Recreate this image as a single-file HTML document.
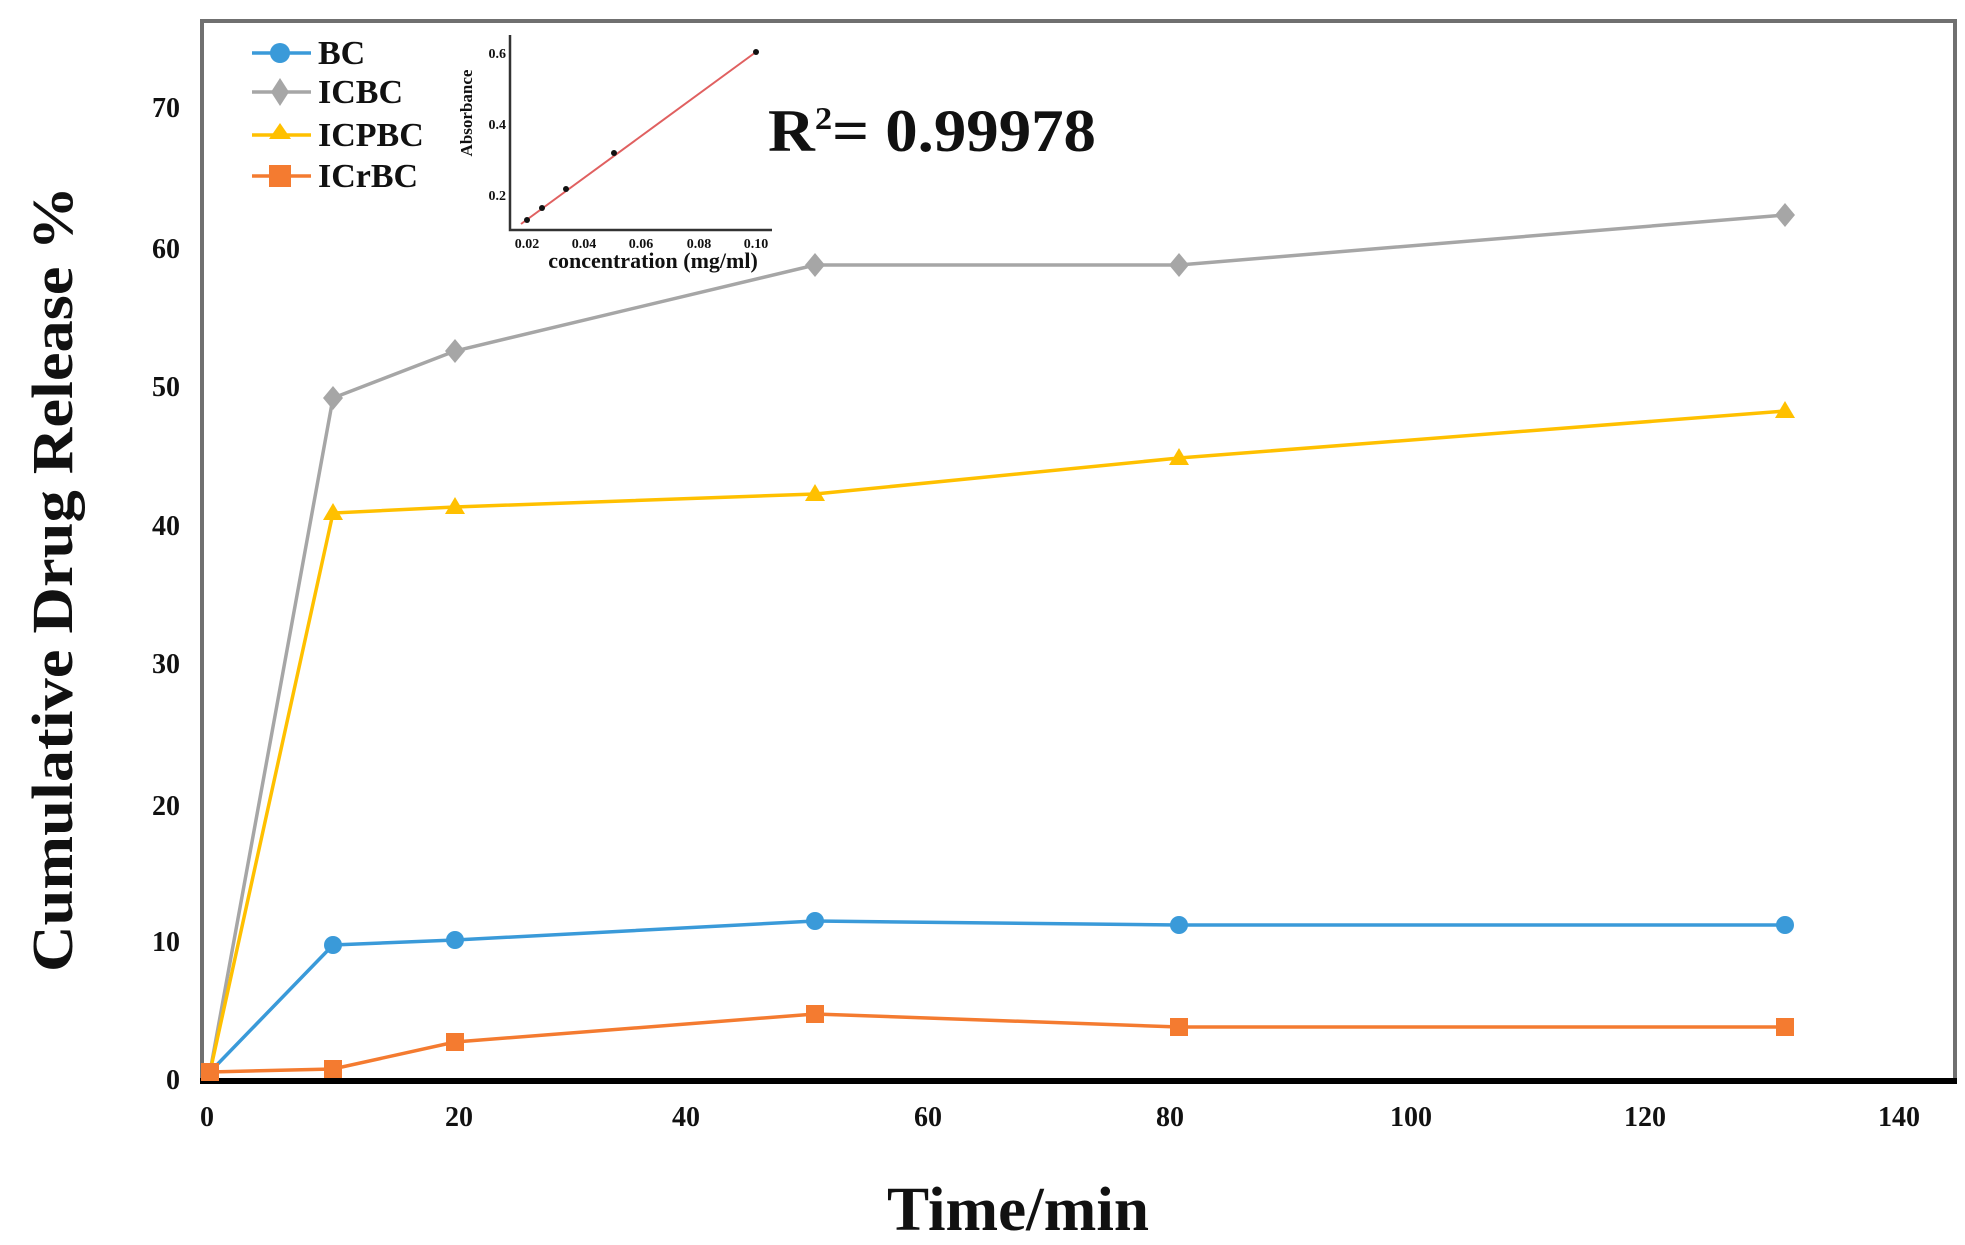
<!DOCTYPE html>
<html><head><meta charset="utf-8"><style>
html,body{margin:0;padding:0;background:#fff;}
svg{display:block;}
text{font-family:"Liberation Serif",serif;font-weight:bold;fill:#111;}
</style></head><body>
<svg width="1965" height="1245" viewBox="0 0 1965 1245" xmlns="http://www.w3.org/2000/svg">
<rect x="0" y="0" width="1965" height="1245" fill="#fff"/>
<rect x="202" y="21" width="1753" height="1060" fill="none" stroke="#707070" stroke-width="4"/>
<line x1="200" y1="1081" x2="1957" y2="1081" stroke="#000" stroke-width="6"/>
<g font-size="28" text-anchor="end">
<text x="180" y="1089">0</text>
<text x="180" y="951">10</text>
<text x="180" y="815">20</text>
<text x="180" y="673">30</text>
<text x="180" y="535">40</text>
<text x="180" y="396">50</text>
<text x="180" y="258">60</text>
<text x="180" y="117">70</text>
</g>
<g font-size="28" text-anchor="middle">
<text x="207" y="1126">0</text>
<text x="459" y="1126">20</text>
<text x="686" y="1126">40</text>
<text x="928" y="1126">60</text>
<text x="1170" y="1126">80</text>
<text x="1411" y="1126">100</text>
<text x="1645" y="1126">120</text>
<text x="1899" y="1126">140</text>
</g>
<text x="0" y="0" font-size="58" text-anchor="middle" transform="translate(72,579) rotate(-90)" textLength="786" lengthAdjust="spacingAndGlyphs">Cumulative Drug Release %</text>
<text x="1018" y="1230" font-size="62" text-anchor="middle" textLength="262" lengthAdjust="spacingAndGlyphs">Time/min</text>
<g fill="none" stroke-width="3.5">
<polyline stroke="#a6a6a6" points="210,1072 333,398 455,351 815,265 1179,265 1785,215"/>
<polyline stroke="#ffc000" points="210,1072 333,513 455,507 815,494 1179,458 1785,411"/>
<polyline stroke="#3a9ad9" points="210,1072 333,945 455,940 815,921 1179,925 1785,925"/>
<polyline stroke="#f47b30" points="210,1072 333,1069 455,1042 815,1014 1179,1027 1785,1027"/>
</g>
<g fill="#a6a6a6">
<polygon points="333,386 343,398 333,410 323,398"/><polygon points="455,339 465,351 455,363 445,351"/>
<polygon points="815,253 825,265 815,277 805,265"/><polygon points="1179,253 1189,265 1179,277 1169,265"/>
<polygon points="1785,203 1795,215 1785,227 1775,215"/>
</g>
<g fill="#ffc000">
<polygon points="333,503 343,520 323,520"/><polygon points="455,497 465,514 445,514"/>
<polygon points="815,484 825,501 805,501"/><polygon points="1179,448 1189,465 1169,465"/>
<polygon points="1785,401 1795,418 1775,418"/>
</g>
<g fill="#3a9ad9">
<circle cx="333" cy="945" r="9"/><circle cx="455" cy="940" r="9"/><circle cx="815" cy="921" r="9"/>
<circle cx="1179" cy="925" r="9"/><circle cx="1785" cy="925" r="9"/>
</g>
<g fill="#f47b30">
<rect x="201" y="1063" width="18" height="18"/><rect x="324" y="1060" width="18" height="18"/>
<rect x="446" y="1033" width="18" height="18"/><rect x="806" y="1005" width="18" height="18"/>
<rect x="1170" y="1018" width="18" height="18"/><rect x="1776" y="1018" width="18" height="18"/>
</g>
<g stroke-width="3.5">
<line x1="252" y1="53" x2="311" y2="53" stroke="#3a9ad9"/>
<line x1="252" y1="92" x2="311" y2="92" stroke="#a6a6a6"/>
<line x1="252" y1="135" x2="311" y2="135" stroke="#ffc000"/>
<line x1="252" y1="176" x2="311" y2="176" stroke="#f47b30"/>
</g>
<circle cx="280" cy="53" r="10" fill="#3a9ad9"/>
<polygon points="280,78 289,92 280,106 271,92" fill="#a6a6a6"/>
<polygon points="280,123 291,139 269,139" fill="#ffc000"/>
<rect x="269" y="165" width="22" height="22" fill="#f47b30"/>
<g font-size="34">
<text x="318" y="64">BC</text>
<text x="318" y="103">ICBC</text>
<text x="318" y="146">ICPBC</text>
<text x="318" y="187">ICrBC</text>
</g>
<polyline points="510,35 510,230 772,230" fill="none" stroke="#333" stroke-width="2.5"/>
<line x1="521" y1="224" x2="756" y2="52" stroke="#e06060" stroke-width="2"/>
<g fill="#111">
<circle cx="527" cy="220" r="3"/><circle cx="542" cy="208" r="3"/><circle cx="566" cy="189" r="3"/>
<circle cx="614" cy="153" r="3"/><circle cx="756" cy="52" r="3"/>
</g>
<g font-size="14" text-anchor="end">
<text x="506" y="58">0.6</text><text x="506" y="129">0.4</text><text x="506" y="200">0.2</text>
</g>
<g font-size="14" text-anchor="middle">
<text x="527" y="248">0.02</text><text x="584" y="248">0.04</text><text x="641" y="248">0.06</text>
<text x="699" y="248">0.08</text><text x="756" y="248">0.10</text>
</g>
<text x="653" y="268" font-size="22" text-anchor="middle">concentration (mg/ml)</text>
<text x="0" y="0" font-size="17" text-anchor="middle" transform="translate(472,113) rotate(-90)">Absorbance</text>
<text x="768" y="151" font-size="60" textLength="328" lengthAdjust="spacingAndGlyphs">R<tspan font-size="32" dy="-22">2</tspan><tspan dy="22">= 0.99978</tspan></text>
</svg>
</body></html>
